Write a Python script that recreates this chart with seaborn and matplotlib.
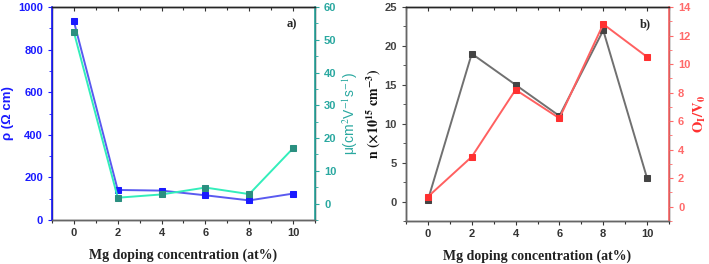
import numpy as np
import pandas as pd
import seaborn as sns
import matplotlib.pyplot as plt
from matplotlib.ticker import MultipleLocator

# values
mg = [0, 2, 4, 6, 8, 10]
rho = [932, 141, 138, 116, 92, 124]
mu = [52.3, 1.8, 2.8, 4.9, 2.9, 16.9]
n_carrier = [0.2, 19.0, 15.0, 11.0, 22.0, 3.0]
o_ratio = [0.7, 3.5, 8.2, 6.2, 12.8, 10.5]

sns.set_style("ticks")
plt.rcParams['font.family'] = ['Liberation Sans', 'DejaVu Sans']
plt.rcParams['mathtext.fontset'] = 'stix'

df = pd.DataFrame({"mg": mg, "rho": rho, "mu": mu, "n": n_carrier, "o": o_ratio})

fig = plt.figure(figsize=(7.09, 2.64), dpi=100)
W, H = 709, 264
ax1 = fig.add_axes([52 / W, (H - 220) / H, 263 / W, 213 / H])
ax3 = fig.add_axes([406 / W, (H - 221) / H, 263 / W, 214 / H])
ax2 = ax1.twinx()
ax4 = ax3.twinx()

TS = 8


def style_x(ax):
    ax.set_xlim(-1, 11)
    ax.xaxis.set_major_locator(MultipleLocator(2))
    ax.xaxis.set_minor_locator(MultipleLocator(1))
    ax.tick_params(axis='x', which='both', direction='out', top=False, length=3, width=0.8,
                   labelsize=TS, colors='#333333', pad=3)
    ax.tick_params(axis='x', which='minor', length=2)
    for lab in ax.get_xticklabels():
        lab.set_fontweight('bold')
    ax.set_xlabel("Mg doping concentration (at%)", family='Liberation Serif',
                  fontweight='bold', fontsize=10, color='#222222', labelpad=7)
    top = ax.secondary_xaxis('top')
    top.xaxis.set_major_locator(MultipleLocator(2))
    top.xaxis.set_minor_locator(MultipleLocator(1))
    top.tick_params(axis='x', which='both', direction='in', length=3, width=0.8,
                    labeltop=False, colors='#333333')
    top.tick_params(axis='x', which='minor', length=2)
    top.spines['top'].set_color('#666666')


# panel a
blue_line, blue_mk = '#5a5af0', '#1a1aff'
cyan_line, teal_mk, teal_ax = '#33eebb', '#2a8f80', '#2aa8a0'
sns.lineplot(data=df, x="mg", y="rho", ax=ax1, color=blue_line, lw=1.4, marker='s',
             markersize=4, markerfacecolor=blue_mk, markeredgecolor=blue_mk)
sns.lineplot(data=df, x="mg", y="mu", ax=ax2, color=cyan_line, lw=1.4, marker='s',
             markersize=4, markerfacecolor=teal_mk, markeredgecolor=teal_mk)
ax1.set_ylim(0, 1000)
ax1.yaxis.set_major_locator(MultipleLocator(200))
ax1.yaxis.set_minor_locator(MultipleLocator(100))
ax2.set_ylim(-5, 60)
ax2.yaxis.set_major_locator(MultipleLocator(10))
ax2.yaxis.set_minor_locator(MultipleLocator(5))
style_x(ax1)
ax1.tick_params(axis='y', which='both', colors=blue_mk, labelsize=TS, length=3)
ax1.tick_params(axis='y', which='minor', length=2)
ax2.tick_params(axis='y', which='both', colors=teal_ax, labelsize=TS, length=3)
ax2.tick_params(axis='y', which='minor', length=2)
for lab in ax1.get_yticklabels() + ax2.get_yticklabels():
    lab.set_fontweight('bold')
ax1.set_ylabel("ρ (Ω cm)", color=blue_mk, fontsize=9.5, fontweight='bold', labelpad=3)
ax2.set_ylabel("μ(cm$^{2}$V$^{-1}$s$^{-1}$)", color=teal_ax, fontsize=10,
               rotation=90, labelpad=3)
ax2.spines['bottom'].set_color('#666666')
ax2.spines['left'].set_color(blue_mk)
ax2.spines['right'].set_color(teal_ax)
ax1.text(0.93, 0.92, "a)", transform=ax1.transAxes, family='Liberation Serif',
         fontweight='bold', fontsize=9, ha='right', va='center')

# panel b
gray_line, gray_mk = '#707070', '#444444'
red_line, red_mk, red_ax = '#ff6060', '#ff3030', '#ff6a6a'
sns.lineplot(data=df, x="mg", y="n", ax=ax3, color=gray_line, lw=1.4, marker='s',
             markersize=4, markerfacecolor=gray_mk, markeredgecolor=gray_mk)
sns.lineplot(data=df, x="mg", y="o", ax=ax4, color=red_line, lw=1.4, marker='s',
             markersize=4, markerfacecolor=red_mk, markeredgecolor=red_mk)
ax3.set_ylim(-2.5, 25)
ax3.yaxis.set_major_locator(MultipleLocator(5))
ax3.yaxis.set_minor_locator(MultipleLocator(2.5))
ax4.set_ylim(-1, 14)
ax4.yaxis.set_major_locator(MultipleLocator(2))
ax4.yaxis.set_minor_locator(MultipleLocator(1))
style_x(ax3)
ax3.tick_params(axis='y', which='both', colors='#444444', labelsize=TS, length=3)
ax3.tick_params(axis='y', which='minor', length=2)
ax4.tick_params(axis='y', which='both', colors=red_ax, labelsize=TS, length=3)
ax4.tick_params(axis='y', which='minor', length=2)
for lab in ax3.get_yticklabels() + ax4.get_yticklabels():
    lab.set_fontweight('bold')
ax3.set_ylabel(r"$\mathbf{n\ (\times 10^{15}\ cm^{-3})}$", fontsize=10, color='#111111',
               labelpad=1)
ax4.set_ylabel(r"$\mathbf{O_I/V_0}$", fontsize=10.5, color=red_mk, rotation=90, labelpad=1)
for s in ['bottom', 'left']:
    ax4.spines[s].set_color('#666666')
ax4.spines['right'].set_color(red_ax)
ax3.text(0.93, 0.92, "b)", transform=ax3.transAxes, family='Liberation Serif',
         fontweight='bold', fontsize=9, ha='right', va='center')

for ax in [ax1, ax2, ax3, ax4]:
    for s in ax.spines.values():
        s.set_linewidth(1.0)
ax2.spines['right'].set_linewidth(1.2)
ax2.spines['left'].set_linewidth(1.2)
ax4.spines['right'].set_linewidth(1.2)

fig.savefig("out.png", dpi=100)
